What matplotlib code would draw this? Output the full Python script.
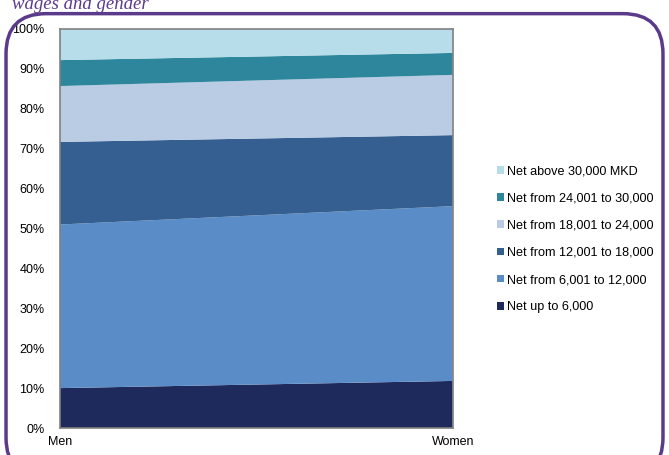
import matplotlib.pyplot as plt
from matplotlib.patches import FancyBboxPatch

plt.rcParams['font.family'] = ['Liberation Sans', 'DejaVu Sans']

# shares of employees by net wage bracket (%)
groups = ["Men", "Women"]
series = ["Net up to 6,000", "Net from 6,001 to 12,000", "Net from 12,001 to 18,000",
          "Net from 18,001 to 24,000", "Net from 24,001 to 30,000", "Net above 30,000 MKD"]
men = [10.0, 41.0, 20.7, 14.0, 6.5, 7.8]
women = [11.8, 43.8, 17.8, 15.1, 5.5, 6.0]
colors = ["#1f2a5c", "#5a8dc8", "#355f91", "#b9cce4", "#2e869c", "#b6dde9"]

fig = plt.figure(figsize=(6.69, 4.55), dpi=100)

# purple rounded frame and cut-off title
frame = FancyBboxPatch((0.009, -0.05), 0.982, 1.02, boxstyle="round,pad=0,rounding_size=0.06",
                       transform=fig.transFigure, fill=False, edgecolor="#5b3a8c", linewidth=2.5,
                       mutation_aspect=669/455)
fig.patches.append(frame)
fig.text(0.018, 0.99, "wages and gender", fontsize=13.5, style="italic", color="#5b3a8c",
         family="Liberation Serif", va="center", ha="left")

ax = fig.add_axes([0.0897, 0.0593, 0.587, 0.877])
x = [0, 1]
vals = [[m, w] for m, w in zip(men, women)]
ax.stackplot(x, *vals, colors=colors, labels=series, edgecolor="none")

ax.set_xlim(0, 1)
ax.set_ylim(0, 100)
ax.set_yticks(range(0, 101, 10))
ax.set_yticklabels([f"{v}%" for v in range(0, 101, 10)], fontsize=9)
ax.set_xticks(x)
ax.set_xticklabels(groups, fontsize=9)
ax.tick_params(axis='y', length=0, pad=11)
ax.tick_params(axis='x', length=0, pad=6)
for s in ax.spines.values():
    s.set_color("#808080")
    s.set_linewidth(1.2)

handles, labels = ax.get_legend_handles_labels()
fig.legend(handles[::-1], labels[::-1], loc="center left", bbox_to_anchor=(0.726, 0.474),
           frameon=False, fontsize=9.1, handlelength=0.55, handleheight=0.55,
           handletextpad=0.2, labelspacing=1.2)

fig.savefig("out.png", dpi=100)
